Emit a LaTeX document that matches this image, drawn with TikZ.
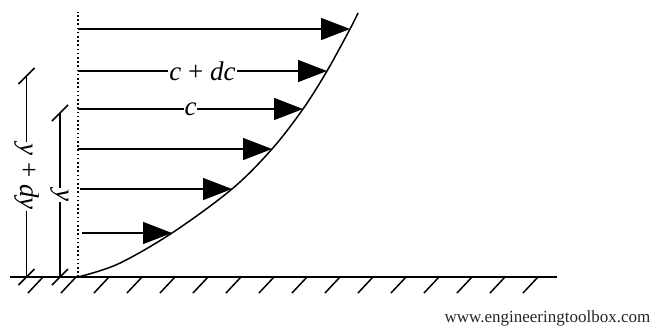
\documentclass[tikz,border=0pt]{standalone}
\usepackage{fontspec}
\setmainfont{Liberation Serif}
\usetikzlibrary{arrows.meta}

\tikzset{
  lbl/.style={fill=white, inner sep=1pt, font=\fontsize{27}{29}\selectfont},
  vel/.style={arrows={-{Triangle[length=29pt, width=22pt]}}}
}

\begin{document}
\begin{tikzpicture}[x=1pt, y=-1pt, line width=1.5pt]
\useasboundingbox (0, 0) rectangle (652, 329);

\coordinate (o) at (78, 277);
\coordinate (top) at (78, 12);
\coordinate (g0) at (10, 277);
\coordinate (g1) at (557, 277);

% wall
\draw (g0) -- (g1);
\foreach \i in {0, ..., 15}
  \draw (43+33*\i, 277) -- ++(-15, 16);
\draw [dash pattern=on 1.6pt off 2.6pt, line width=1.8pt] (o) -- (top);

% velocity profile
\foreach \s/\x/\y [count=\i] in {78/350/29, 78/327/71, 78/303/109, 78/272/149, 80/232/189, 82/172/233} {
  \coordinate (s\i) at (\s, \y);
  \coordinate (t\i) at (\x, \y);
}
\foreach \i in {1, 4, 5, 6}
  \draw [vel] (s\i) -- (t\i);
\draw [vel] (s2) -- node (cdc) [midway, lbl] {\textit{c} + \textit{dc}} (t2);
\draw [vel] (s3) -- node (c) [midway, lbl] {\textit{c}} (t3);

\draw plot [smooth, tension=0.55] coordinates {(o) (118, 264) (t6) (t5) (t4) (t3) (t2) (t1) (358, 13)};

% heights
\coordinate (h0) at (26.5, 277);
\coordinate (h1) at (26.5, 76);
\coordinate (k0) at (60, 277);
\coordinate (k1) at (60, 113);
\draw (h0) -- node (ydy) [midway, lbl, rotate=-90] {\textit{y} + \textit{dy}} (h1);
\draw (k0) -- node (y) [midway, lbl, rotate=-90] {\textit{y}} (k1);
\foreach \p in {h0, h1, k0, k1}
  \draw (\p) ++(-8, 8) -- ++(16, -16);

\node (web) [anchor=east, inner sep=0pt, text=black!85, font=\fontsize{17}{19}\selectfont] at (651, 318) {www.engineeringtoolbox.com};
\end{tikzpicture}
\end{document}
